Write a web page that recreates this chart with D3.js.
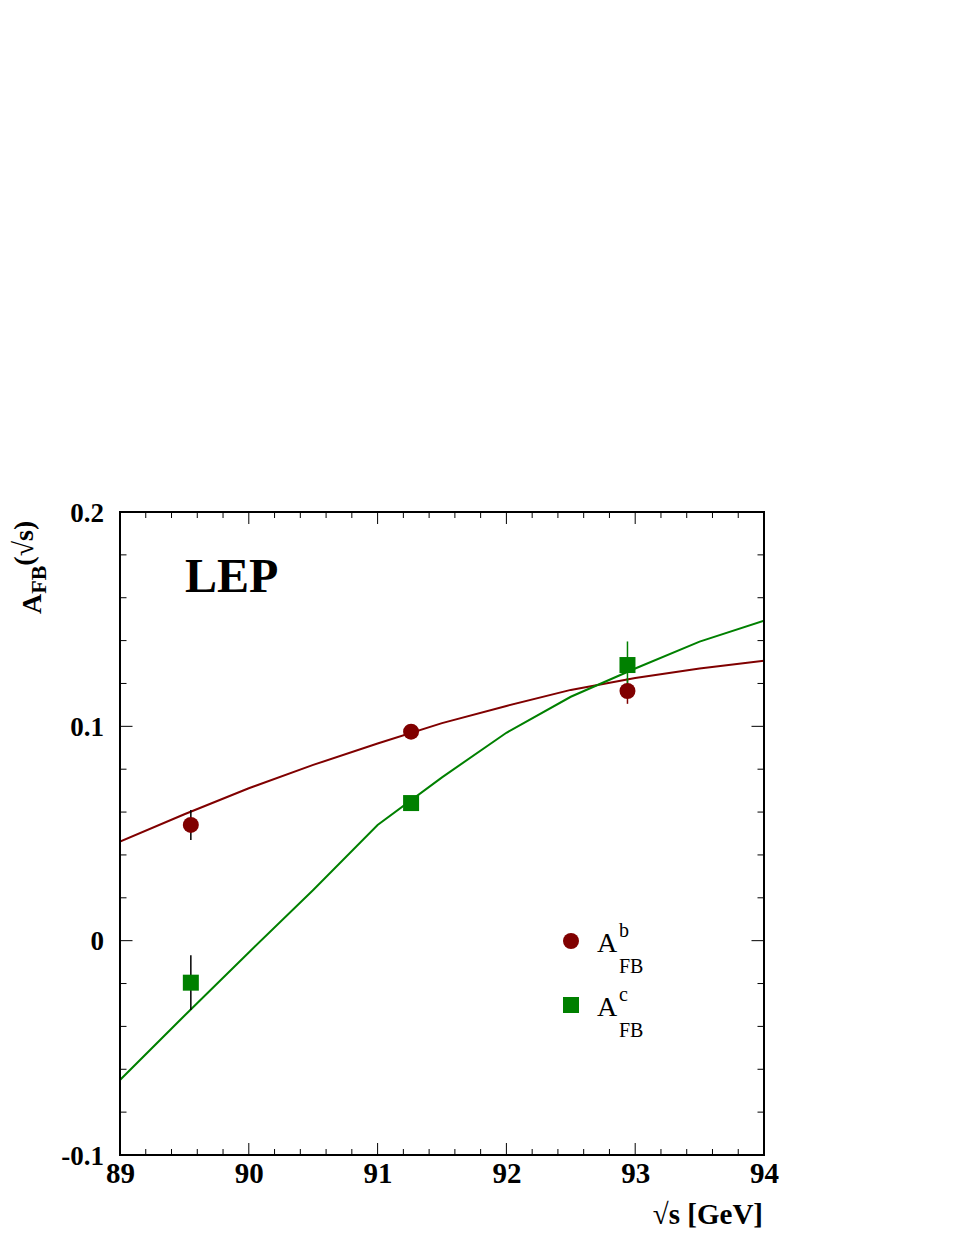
<!DOCTYPE html>
<html>
<head>
<meta charset="utf-8">
<script src="https://cdn.jsdelivr.net/npm/d3@7"></script>
<style>
  html, body { margin: 0; padding: 0; background: #fff; }
  svg { display: block; }
</style>
</head>
<body>
<svg id="chart" width="955" height="1236"></svg>
<script>
// ---- data ----
const xTicks = [89, 90, 91, 92, 93, 94];
const yTicks = [-0.1, 0, 0.1, 0.2];
const yTickLabels = ["-0.1", "0", "0.1", "0.2"];

const energies = [89.55, 91.26, 92.94];
const afbB = [0.054, 0.0975, 0.1165];
const afbBErr = [0.007, 0.002, 0.006];
const afbC = [-0.0196, 0.0642, 0.1286];
const afbCErr = [0.0128, 0.003, 0.011];

const curveX = [89, 89.5, 90, 90.5, 91, 91.5, 92, 92.5, 93, 93.5, 94];
const curveB = [0.0462, 0.059, 0.0711, 0.082, 0.092, 0.1015, 0.1095, 0.117, 0.1225, 0.127, 0.1306];
const curveC = [-0.065, -0.035, -0.0055, 0.0236, 0.054, 0.0762, 0.097, 0.1138, 0.127, 0.1395, 0.1493];

// ---- layout ----
const svg = d3.select("#chart");
const L = 120, R = 764, T = 512, B = 1155;
const x = d3.scaleLinear().domain([89, 94]).range([L, R]);
const y = d3.scaleLinear().domain([-0.1, 0.2]).range([B, T]);
const FONT = "'Liberation Serif', 'Times New Roman', serif";
const red = "#800000", green = "#008000";

svg.append("defs").append("clipPath").attr("id", "clip")
  .append("rect").attr("x", L).attr("y", T).attr("width", R - L).attr("height", B - T);

// ticks
const minorX = d3.range(89, 94.0001, 0.2);
const minorY = d3.range(-0.1, 0.20001, 0.02);
const tickG = svg.append("g").attr("stroke", "#000").attr("stroke-width", 1);
function isMajor(v, step) { return Math.abs(v / step - Math.round(v / step)) < 1e-6; }
minorX.forEach(v => {
  const len = isMajor(v, 1) ? 12 : 6;
  const px = x(v);
  tickG.append("line").attr("x1", px).attr("x2", px).attr("y1", B).attr("y2", B - len);
  tickG.append("line").attr("x1", px).attr("x2", px).attr("y1", T).attr("y2", T + len);
});
minorY.forEach(v => {
  const len = isMajor(v, 0.1) ? 12.5 : 6.5;
  const py = y(v);
  tickG.append("line").attr("x1", L).attr("x2", L + len).attr("y1", py).attr("y2", py);
  tickG.append("line").attr("x1", R).attr("x2", R - len).attr("y1", py).attr("y2", py);
});

// axis tick labels via d3 axes (lines hidden)
const xAxis = d3.axisBottom(x).tickValues(xTicks).tickSize(0).tickPadding(0).tickFormat(d3.format("d"));
const gx = svg.append("g").attr("transform", `translate(0,${B})`).call(xAxis);
gx.select(".domain").remove();
gx.selectAll("text").attr("font-family", FONT).attr("font-weight", "bold")
  .attr("font-size", 29).attr("fill", "#000").attr("dy", null).attr("y", 28);

const yAxis = d3.axisLeft(y).tickValues(yTicks).tickSize(0).tickPadding(0)
  .tickFormat((d, i) => yTickLabels[i]);
const gy = svg.append("g").attr("transform", `translate(${L},0)`).call(yAxis);
gy.select(".domain").remove();
gy.selectAll("text").attr("font-family", FONT).attr("font-weight", "bold")
  .attr("font-size", 27).attr("fill", "#000").attr("x", -16).attr("dy", "0.34em");

// curves
const line = d3.line().x(d => x(d[0])).y(d => y(d[1]));
const plotG = svg.append("g").attr("clip-path", "url(#clip)");
plotG.append("path").datum(curveX.map((v, i) => [v, curveB[i]]))
  .attr("d", line).attr("fill", "none").attr("stroke", red).attr("stroke-width", 2);
plotG.append("path").datum(curveX.map((v, i) => [v, curveC[i]]))
  .attr("d", line).attr("fill", "none").attr("stroke", green).attr("stroke-width", 2);

// error bars
function errBars(vals, errs, col) {
  energies.forEach((e, i) => {
    plotG.append("line").attr("x1", x(e)).attr("x2", x(e))
      .attr("y1", y(vals[i] - errs[i])).attr("y2", y(vals[i] + errs[i]))
      .attr("stroke", i === 0 ? "#000" : col).attr("stroke-width", 1.5);
  });
}
errBars(afbB, afbBErr, red);
errBars(afbC, afbCErr, green);

// markers
energies.forEach((e, i) => {
  plotG.append("circle").attr("cx", x(e)).attr("cy", y(afbB[i])).attr("r", 8).attr("fill", red);
});
energies.forEach((e, i) => {
  plotG.append("rect").attr("x", x(e) - 8).attr("y", y(afbC[i]) - 8)
    .attr("width", 16).attr("height", 16).attr("fill", green);
});

// frame
svg.append("rect").attr("x", L).attr("y", T).attr("width", R - L).attr("height", B - T)
  .attr("fill", "none").attr("stroke", "#000").attr("stroke-width", 2);

// LEP label
svg.append("text").attr("x", 185).attr("y", 592).attr("font-family", FONT)
  .attr("font-weight", "bold").attr("font-size", 48).text("LEP");

// x title
svg.append("text").attr("x", 763).attr("y", 1224).attr("text-anchor", "end")
  .attr("font-family", FONT).attr("font-weight", "bold").attr("font-size", 29).text("√s [GeV]");

// y title
const yt = svg.append("text").attr("transform", "translate(41,614) rotate(-90)")
  .attr("font-family", FONT).attr("font-weight", "bold").attr("font-size", 28);
yt.append("tspan").text("A");
yt.append("tspan").attr("font-size", 22).attr("dy", 5).text("FB");
yt.append("tspan").attr("dy", -13).text("(√s)");

// legend
const leg = [
  { sym: "circle", col: red, sup: "b", cy: 941 },
  { sym: "square", col: green, sup: "c", cy: 1005 }
];
leg.forEach(l => {
  if (l.sym === "circle") {
    svg.append("circle").attr("cx", 571).attr("cy", l.cy).attr("r", 8).attr("fill", l.col);
  } else {
    svg.append("rect").attr("x", 563).attr("y", l.cy - 8).attr("width", 16).attr("height", 16).attr("fill", l.col);
  }
  const base = l.cy + 11;
  svg.append("text").attr("x", 597).attr("y", base).attr("font-family", FONT)
    .attr("font-size", 28).text("A");
  svg.append("text").attr("x", 619).attr("y", base - 15).attr("font-family", FONT)
    .attr("font-size", 20).text(l.sup);
  svg.append("text").attr("x", 619).attr("y", base + 21).attr("font-family", FONT)
    .attr("font-size", 20).text("FB");
});
</script>
</body>
</html>
